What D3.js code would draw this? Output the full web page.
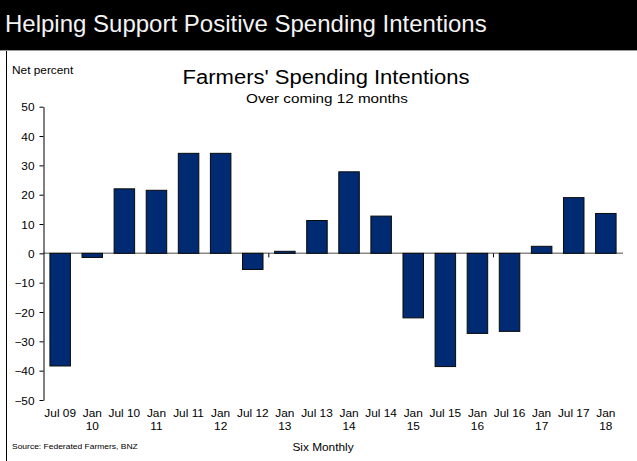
<!DOCTYPE html>
<html>
<head>
<meta charset="utf-8">
<script src="https://cdn.jsdelivr.net/npm/d3@7"></script>
<style>
  html, body { margin: 0; padding: 0; background: #fff; }
  svg { display: block; font-family: "Liberation Sans", Arial, sans-serif; }
</style>
</head>
<body>
<svg id="chart" width="637" height="461"></svg>
<script>
// Six-monthly survey periods
const periods = ["Jul 09", "Jan 10", "Jul 10", "Jan 11", "Jul 11", "Jan 12", "Jul 12", "Jan 13", "Jul 13",
                 "Jan 14", "Jul 14", "Jan 15", "Jul 15", "Jan 16", "Jul 16", "Jan 17", "Jul 17", "Jan 18"];
// Net percent of farmers intending to increase spending
const spending = [-38.4, -1.4, 22.0, 21.5, 34.1, 34.1, -5.5, 0.7, 11.2,
                  27.8, 12.7, -22.0, -38.6, -27.3, -26.6, 2.4, 19.0, 13.6];
const yTicks = [50, 40, 30, 20, 10, 0, -10, -20, -30, -40, -50];

const W = 637, H = 461;
const STRETCH = 1.13; // chart lettering is set slightly wide
const svg = d3.select("#chart");

// Header band
svg.append("rect").attr("x", 0).attr("y", 0).attr("width", W).attr("height", 50).attr("fill", "#000");
svg.append("line").attr("x1", 0).attr("x2", W).attr("y1", 50.5).attr("y2", 50.5)
  .attr("stroke", "#9a9a9a").attr("stroke-width", 1);
svg.append("text").attr("x", 5).attr("y", 32)
  .attr("fill", "#f4f4f4").attr("font-size", 24)
  .text("Helping Support Positive Spending Intentions");

// Frame edge on the left of the chart panel
svg.append("line").attr("x1", 6.5).attr("x2", 6.5).attr("y1", 51).attr("y2", H)
  .attr("stroke", "#000").attr("stroke-width", 1);

function label(x, y, txt, size, anchor) {
  return svg.append("text")
    .attr("transform", `translate(${x},${y}) scale(${STRETCH},1)`)
    .attr("text-anchor", anchor || "start")
    .attr("font-size", size)
    .attr("fill", "#000")
    .text(txt);
}

label(326, 84, "Farmers' Spending Intentions", 19.5, "middle");
label(327, 103, "Over coming 12 months", 13.5, "middle");
label(12, 74, "Net percent", 10.5);
label(12, 449, "Source: Federated Farmers, BNZ", 7.5);
label(323, 451, "Six Monthly", 10.5, "middle");

// Scales
const x = d3.scaleBand().domain(periods).range([43, 623]).paddingInner(0.33).paddingOuter(0.2);
const y = d3.scaleLinear().domain([-50, 50]).range([400, 106.7]);

// Zero line
svg.append("line")
  .attr("x1", 43).attr("x2", 623).attr("y1", y(0)).attr("y2", y(0))
  .attr("stroke", "#8a8a8a").attr("stroke-width", 1.5);

// Small ticks on the zero line every seven periods
[7, 14].forEach(i => {
  const xb = x(periods[i]) - x.step() * x.paddingInner() / 2;
  svg.append("line").attr("x1", xb).attr("x2", xb).attr("y1", y(0)).attr("y2", y(0) + 4)
    .attr("stroke", "#000").attr("stroke-width", 1);
});

// Bars
svg.append("g").selectAll("rect").data(spending).join("rect")
  .attr("x", (d, i) => x(periods[i]) + 0.5)
  .attr("y", d => y(Math.max(0, d)))
  .attr("width", x.bandwidth() - 1)
  .attr("height", d => Math.abs(y(d) - y(0)))
  .attr("fill", "#002a72")
  .attr("stroke", "#0a0a0a")
  .attr("stroke-width", 1);

// Y axis
const yAxis = svg.append("g").attr("transform", "translate(43.5,0)")
  .call(d3.axisLeft(y).tickValues(yTicks).tickSize(4).tickSizeOuter(0).tickFormat(d3.format("d")));
yAxis.select(".domain").attr("stroke", "#000");
yAxis.selectAll(".tick line").attr("stroke", "#000");
yAxis.selectAll(".tick text")
  .attr("x", null).attr("dy", null)
  .attr("transform", `translate(-9,4) scale(${STRETCH},1)`)
  .attr("font-family", "Liberation Sans, Arial, sans-serif")
  .attr("font-size", 10.5).attr("fill", "#000");

// Category labels, Jan periods wrap onto two lines
const xl = svg.append("g");
periods.forEach(p => {
  const cx = x(p) + x.bandwidth() / 2;
  const parts = p.startsWith("Jan") ? p.split(" ") : [p];
  parts.forEach((t, j) => {
    xl.append("text")
      .attr("transform", `translate(${cx},${417 + j * 13}) scale(${STRETCH},1)`)
      .attr("text-anchor", "middle")
      .attr("font-size", 10.5)
      .attr("fill", "#000")
      .text(t);
  });
});
</script>
</body>
</html>
